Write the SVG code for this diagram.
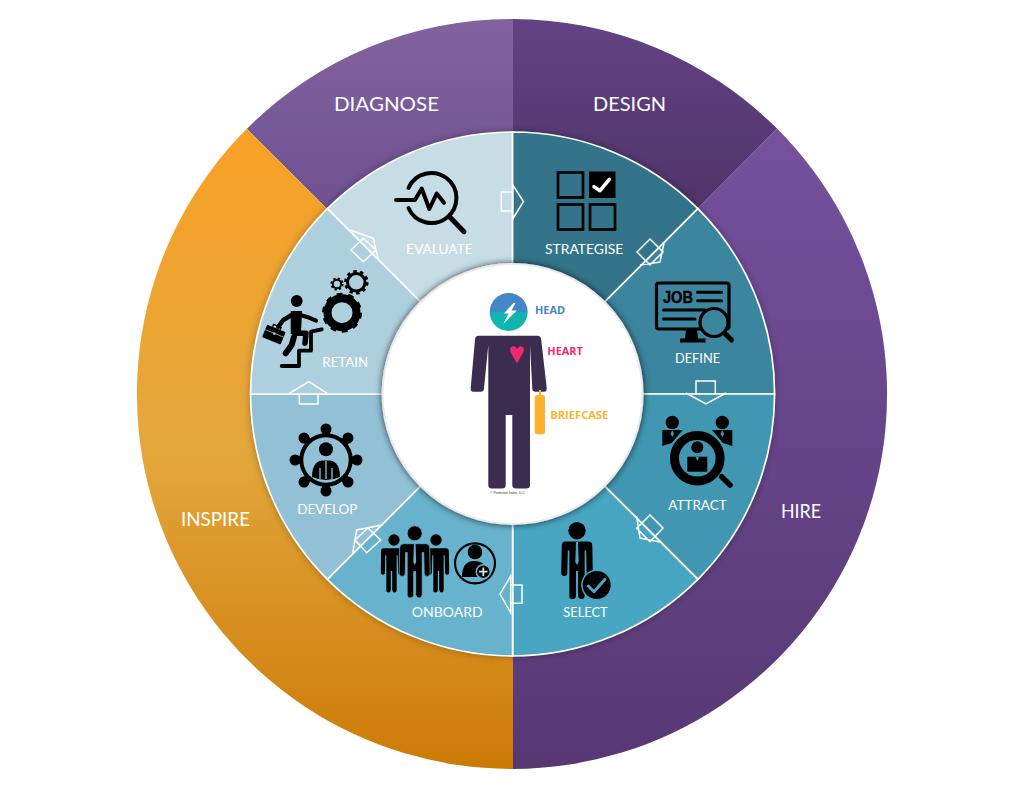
<svg xmlns="http://www.w3.org/2000/svg" width="1024" height="787" viewBox="0 0 1024 787">
<style>
.rl{font-family:"Lato","Liberation Sans",sans-serif;font-size:14px;fill:#fff;font-weight:400}
.ol{font-family:"Lato","Liberation Sans",sans-serif;font-size:18.5px;fill:#fff;font-weight:400}
.cl{font-family:"Open Sans","Liberation Sans",sans-serif;font-size:10px;font-weight:700}
.sec{stroke:#fff;stroke-width:1.7}
.arr{fill:none;stroke:#fff;stroke-width:1.5;stroke-linejoin:miter}
.k{fill:#000}
.ks{fill:none;stroke:#000;stroke-linecap:round;stroke-linejoin:round}
</style>
<defs>
<linearGradient id="gDiag" gradientUnits="userSpaceOnUse" x1="0" y1="19" x2="0" y2="208"><stop offset="0" stop-color="#80639f"/><stop offset="1" stop-color="#6f5191"/></linearGradient>
<linearGradient id="gDes" gradientUnits="userSpaceOnUse" x1="0" y1="19" x2="0" y2="208"><stop offset="0" stop-color="#624384"/><stop offset="1" stop-color="#4f3468"/></linearGradient>
<linearGradient id="gHire" gradientUnits="userSpaceOnUse" x1="0" y1="129" x2="0" y2="769"><stop offset="0" stop-color="#76519e"/><stop offset="1" stop-color="#573873"/></linearGradient>
<linearGradient id="gIns" gradientUnits="userSpaceOnUse" x1="0" y1="129" x2="0" y2="769"><stop offset="0" stop-color="#f8a126"/><stop offset=".5" stop-color="#e4a73c"/><stop offset="1" stop-color="#cc7a06"/></linearGradient>
<filter id="soft" x="-20%" y="-20%" width="140%" height="140%"><feDropShadow dx="0" dy="0" stdDeviation="4" flood-color="#000" flood-opacity=".35"/></filter>
<filter id="hub" x="-20%" y="-20%" width="140%" height="140%"><feDropShadow dx="0" dy="0" stdDeviation="3.500" flood-color="#000" flood-opacity=".7"/></filter>
<path id="man" d="M-15 23Q-15 19-11 19H11Q15 19 15 23L15.500 50Q15.500 53 12.500 53T9.500 50L9 28H7.500V72Q7.500 75.500 4.500 75.500T1 72V48H-1V72Q-1 75.500-4.500 75.500T-7.500 72V28H-9L-9.500 50Q-9.500 53-12.500 53T-15.500 50Z"/>
</defs>

<g id="node-diagnose"><path d="M513 394L246.800 128.800A375 375 0 0 1 513 19Z" fill="url(#gDiag)"/><text class="ol" x="334" y="111" textLength="105" lengthAdjust="spacingAndGlyphs">DIAGNOSE</text></g>
<g id="node-design"><path d="M513 394V19A375 375 0 0 1 777.200 128.800Z" fill="url(#gDes)"/><text class="ol" x="593" y="111" textLength="73" lengthAdjust="spacingAndGlyphs">DESIGN</text></g>
<g id="node-hire"><path d="M513 394L777.200 128.800A375 375 0 0 1 513 769Z" fill="url(#gHire)"/><text class="ol" x="781" y="518" textLength="40" lengthAdjust="spacingAndGlyphs">HIRE</text></g>
<g id="node-inspire"><path d="M513 394V769A375 375 0 0 1 246.800 128.800Z" fill="url(#gIns)"/><text class="ol" x="181" y="526" textLength="69" lengthAdjust="spacingAndGlyphs">INSPIRE</text></g>

<circle cx="512.600" cy="394" r="262" fill="#000" filter="url(#soft)"/>

<g id="node-evaluate">
<path class="sec" transform="translate(.6 0)" d="M512 394L326.700 208.700A262 262 0 0 1 512 132Z" fill="#c7dde6"/>
<path class="ks" stroke-width="4" d="M408.500 188A25 25 0 1 1 408.500 208"/>
<path class="ks" stroke-width="4" d="M396 200H415L421.700 188.500L429.300 209L436.700 193.500L444 202.700"/>
<path class="ks" stroke-width="5" d="M450 217.300L464 231.700"/>
<text class="rl" x="406" y="254.300" textLength="66.700" lengthAdjust="spacingAndGlyphs">EVALUATE</text>
</g>
<g id="node-strategise">
<path class="sec" transform="translate(.6 0)" d="M512 394V132A262 262 0 0 1 697.300 208.700Z" fill="#33748a"/>
<g fill="none" stroke="#000" stroke-width="2.700"><rect x="558" y="172.500" width="25" height="25"/><rect x="558" y="204.500" width="25" height="25"/><rect x="590" y="204.500" width="25" height="25"/></g>
<rect x="589" y="171.500" width="26.500" height="26.500" fill="#000"/>
<path d="M594 186.700L600 190.700L609.300 179.300" fill="none" stroke="#fff" stroke-width="3.500" stroke-linecap="round" stroke-linejoin="round"/>
<text class="rl" x="545" y="254.300" textLength="78.300" lengthAdjust="spacingAndGlyphs">STRATEGISE</text>
</g>
<g id="node-define">
<path class="sec" transform="translate(.6 0)" d="M512 394L697.300 208.700A262 262 0 0 1 774 394Z" fill="#3b859e"/>
<rect x="656.500" y="283" width="72.500" height="46" rx="2.500" fill="none" stroke="#000" stroke-width="3.200"/>
<path class="k" d="M686 330H697L698 338.500H705.500V342.500H680V338.500H685Z"/>
<text x="663" y="303" font-family="Liberation Sans,sans-serif" font-weight="700" font-size="16" textLength="30" lengthAdjust="spacingAndGlyphs" fill="#000" stroke="#000" stroke-width=".4">JOB</text>
<path class="ks" stroke-width="3" d="M697.500 292.300H721.500M697.500 300.700H721.500M663.500 310H705M663.500 319H695"/>
<circle cx="714" cy="322.500" r="14" fill="#3b859e" stroke="#000" stroke-width="3.200"/>
<path class="ks" stroke-width="5" d="M725 333.500L731.500 340"/>
<text class="rl" x="675" y="362.800" textLength="45" lengthAdjust="spacingAndGlyphs">DEFINE</text>
</g>
<g id="node-attract">
<path class="sec" transform="translate(.6 0)" d="M512 394H774A262 262 0 0 1 697.300 579.300Z" fill="#4197b2"/>
<circle class="k" cx="672.300" cy="422.500" r="6.700"/><circle class="k" cx="722.300" cy="422.500" r="6.700"/>
<path class="k" d="M662.300 430H682.700L671.700 443L662.300 446Z"/><path class="k" d="M732.300 430H712L723 443L732.300 446Z"/>
<path d="M672.300 430L670.500 434L672.300 437L674.100 434ZM722.300 430L720.500 434L722.300 437L724.100 434Z" fill="#4197b2"/>
<circle cx="697.300" cy="458.300" r="22.800" fill="#4197b2" stroke="#000" stroke-width="9"/>
<path class="ks" stroke-width="5.500" d="M721.700 476.700L730 485"/>
<circle class="k" cx="697.300" cy="447.300" r="6"/><rect class="k" x="687.300" y="456.700" width="20" height="15"/>
<path d="M695.500 456.700H699L697.300 461Z" fill="#4197b2"/>
<text class="rl" x="668.300" y="510" textLength="58.400" lengthAdjust="spacingAndGlyphs">ATTRACT</text>
</g>
<g id="node-select">
<path class="sec" transform="translate(.6 0)" d="M512 394L697.300 579.300A262 262 0 0 1 512 656Z" fill="#48a6c2"/>
<circle class="k" cx="577" cy="530.700" r="8.700"/>
<use href="#man" transform="translate(577 522) scale(1.020)" class="k"/>
<path d="M576 542H578L578.700 562L577 565L575.300 562Z" fill="#48a6c2"/>
<circle cx="596.700" cy="585" r="15.500" fill="#48a6c2"/><circle class="k" cx="596.700" cy="585" r="14"/>
<path d="M588.300 586L594 591.700L605 579.300" fill="none" stroke="#48a6c2" stroke-width="3" stroke-linecap="round" stroke-linejoin="round"/>
<text class="rl" x="563.300" y="616.700" textLength="44.400" lengthAdjust="spacingAndGlyphs">SELECT</text>
</g>
<g id="node-onboard">
<path class="sec" transform="translate(.6 0)" d="M512 394V656A262 262 0 0 1 326.700 579.300Z" fill="#67b2cc"/>
<g class="k">
<circle cx="394" cy="540" r="5.700"/><use href="#man" transform="translate(391.500 533.500) scale(.69 .78)"/>
<circle cx="436" cy="540" r="5.700"/><use href="#man" transform="translate(438.500 533.500) scale(.69 .78)"/>
<g stroke="#67b2cc" stroke-width=".8"><circle cx="414.700" cy="533.300" r="7.500"/><use href="#man" transform="translate(414.700 525.500) scale(1 .96)"/></g>
</g>
<path d="M414 543.500H415.500L416.200 562L414.700 565L413.300 562Z" fill="#67b2cc"/>
<circle cx="475" cy="563.300" r="20" fill="none" stroke="#000" stroke-width="2.200"/>
<circle class="k" cx="475" cy="552" r="7.300"/>
<path class="k" d="M462 577Q462 561 474 561Q488 561 488 577Z"/>
<circle cx="483.300" cy="571.700" r="7" fill="#000" stroke="#67b2cc" stroke-width="1.500"/>
<path d="M483.300 567.500V576M479 571.700H487.500" stroke="#cfe6ee" stroke-width="1.800" fill="none"/>
<text class="rl" x="411.700" y="616.700" textLength="71" lengthAdjust="spacingAndGlyphs">ONBOARD</text>
</g>
<g id="node-develop">
<path class="sec" transform="translate(.6 0)" d="M512 394L326.700 579.300A262 262 0 0 1 250 394Z" fill="#92c1d6"/>
<circle cx="326" cy="460" r="24.700" fill="none" stroke="#000" stroke-width="4"/>
<circle cx="326" cy="460" r="28" fill="none" stroke="#000" stroke-width="6" stroke-dasharray="8 13.990" stroke-dashoffset="4"/>
<g class="k"><circle cx="357" cy="460" r="5.500"/><circle cx="348" cy="482" r="5.500"/><circle cx="326" cy="491" r="5.500"/><circle cx="304" cy="482" r="5.500"/><circle cx="295" cy="460" r="5.500"/><circle cx="304" cy="438" r="5.500"/><circle cx="326" cy="429" r="5.500"/><circle cx="348" cy="438" r="5.500"/></g>
<circle class="k" cx="326" cy="449.300" r="7"/>
<path class="k" d="M312 477Q312 462 322 460.500H330Q340 462 340 477Q333 480 326 480T312 477Z"/>
<path d="M326 461V479M320 468V479M332 468V479" stroke="#92c1d6" stroke-width="1.300" fill="none"/>
<text class="rl" x="297.300" y="514.300" textLength="60" lengthAdjust="spacingAndGlyphs">DEVELOP</text>
</g>
<g id="node-retain">
<path class="sec" transform="translate(.6 0)" d="M512 394H250A262 262 0 0 1 326.700 208.700Z" fill="#aed0de"/>
<g fill="none" stroke="#000">
<circle cx="342" cy="312.700" r="14.500" stroke-width="8"/><circle cx="342" cy="312.700" r="18" stroke-width="4" stroke-dasharray="5.650 5.650"/>
<circle cx="356.300" cy="282.300" r="8.800" stroke-width="3"/><circle cx="356.300" cy="282.300" r="10.800" stroke-width="3" stroke-dasharray="3.400 3.400"/>
<circle cx="337" cy="284" r="4.200" stroke-width="2"/><circle cx="337" cy="284" r="5.600" stroke-width="2" stroke-dasharray="2.200 2.200"/>
</g>
<circle class="k" cx="296.700" cy="301" r="5.900"/>
<path class="k" d="M290.700 311H302L301 334H290.700Z"/>
<path class="ks" stroke-width="4" d="M300 315L308.300 317.300L316 320.700"/>
<path class="ks" stroke-width="4.500" d="M291.700 315L283.300 320L278.300 326.700"/>
<path class="ks" stroke-width="5.500" d="M295 333.300H306L305 343.300"/>
<path class="ks" stroke-width="6" d="M294 336.700L291.700 345L285.700 353.300"/>
<path class="ks" stroke-width="3.800" d="M281.700 366H299V350.700H311V331.700L321.700 329.300"/>
<g transform="translate(274 334.300) rotate(22)"><rect class="k" x="-10" y="-6.500" width="20" height="13.500" rx="1"/><path d="M-4 -6.500V-9H4V-6.500" fill="none" stroke="#000" stroke-width="1.400"/><path d="M-10 -1H10" stroke="#aed0de" stroke-width=".7"/><rect x="-1.200" y="-2" width="2.400" height="2.400" fill="#aed0de"/></g>
<text class="rl" x="322.300" y="366.700" textLength="46" lengthAdjust="spacingAndGlyphs">RETAIN</text>
</g>

<g id="connectors">
<path class="arr" d="M512.700 192H501.300V211H512.700M512.700 185L523.500 201.500L512.700 219Z"/>
<path class="arr" d="M650 239L663 252L650 265L637 252ZM640 265L660 262L664 243"/>
<path class="arr" d="M696 393V381H715.300V393M686 393L706 404L726 393"/>
<path class="arr" d="M650 515L663 528L650 541.700L636.700 528.300ZM636.700 516.700L640 538L660 542"/>
<path class="arr" d="M510.700 585H522V603.300H510.700M510.700 576L500 594L510.700 612.700Z"/>
<path class="arr" d="M380.700 540L366.700 552.700L355 540L368 528ZM352.700 553L356.700 530L381.700 525"/>
<path class="arr" d="M299.300 393.300V404H318V393.300M289.300 393.300L308.700 381.700L327.300 393.300"/>
<path class="arr" d="M363.300 261.700L376 250L363.300 238.300L351 250ZM350 230L373.300 238.300L378.300 260"/>
</g>

<g id="node-center">
<circle cx="512.600" cy="394" r="130" fill="#fff" stroke="#e9e9e9" stroke-width="2" filter="url(#hub)"/>
<path d="M489.700 312A19 19 0 0 1 527.700 312Z" fill="#4586c5"/><path d="M489.700 312A19 19 0 0 0 527.700 312Z" fill="#10b5ad"/>
<path d="M513.500 303L504 313.500H508.500L503.300 324L516.700 310.500H511.500L515.500 303Z" fill="#fff"/>
<path d="M475 339.500Q475 335.700 479 335.700H537Q541 335.700 541.200 339.500L546.700 388Q547 391.700 544 391.700H535.500Q532.500 391.700 532.300 389L530 345V485Q530 488.500 526.500 488.500H515.800Q512.300 488.500 512.300 485V415H505.700V485Q505.700 488.500 502 488.500H492Q488.300 488.500 488.300 485V345L484 388.500Q483.700 391.700 480.700 391.700H473Q470.500 391.700 470.700 388Z" fill="#3b2d4f"/>
<path d="M517 363.500L510.500 352Q509 346.500 513.500 346.200Q516 346.200 517 349Q518.200 346.200 520.500 346.200Q525 346.500 523.500 352Z" fill="#ef2a6f"/>
<rect x="534.700" y="395" width="10.300" height="39.300" rx="2.500" fill="#fdb22f"/><rect x="539" y="390" width="2" height="6" fill="#fdb22f"/>
<text class="cl" x="535" y="314" textLength="30" lengthAdjust="spacingAndGlyphs" fill="#4586c5">HEAD</text>
<text class="cl" x="547.300" y="355" textLength="35.500" lengthAdjust="spacingAndGlyphs" fill="#ef2a6f">HEART</text>
<text class="cl" x="550.300" y="419" textLength="58" lengthAdjust="spacingAndGlyphs" fill="#fdb22f">BRIEFCASE</text>
<text x="490" y="494" font-family="Liberation Sans,sans-serif" font-size="3.600" textLength="35" fill="#444">© Predictive Index, LLC</text>
</g>
</svg>
